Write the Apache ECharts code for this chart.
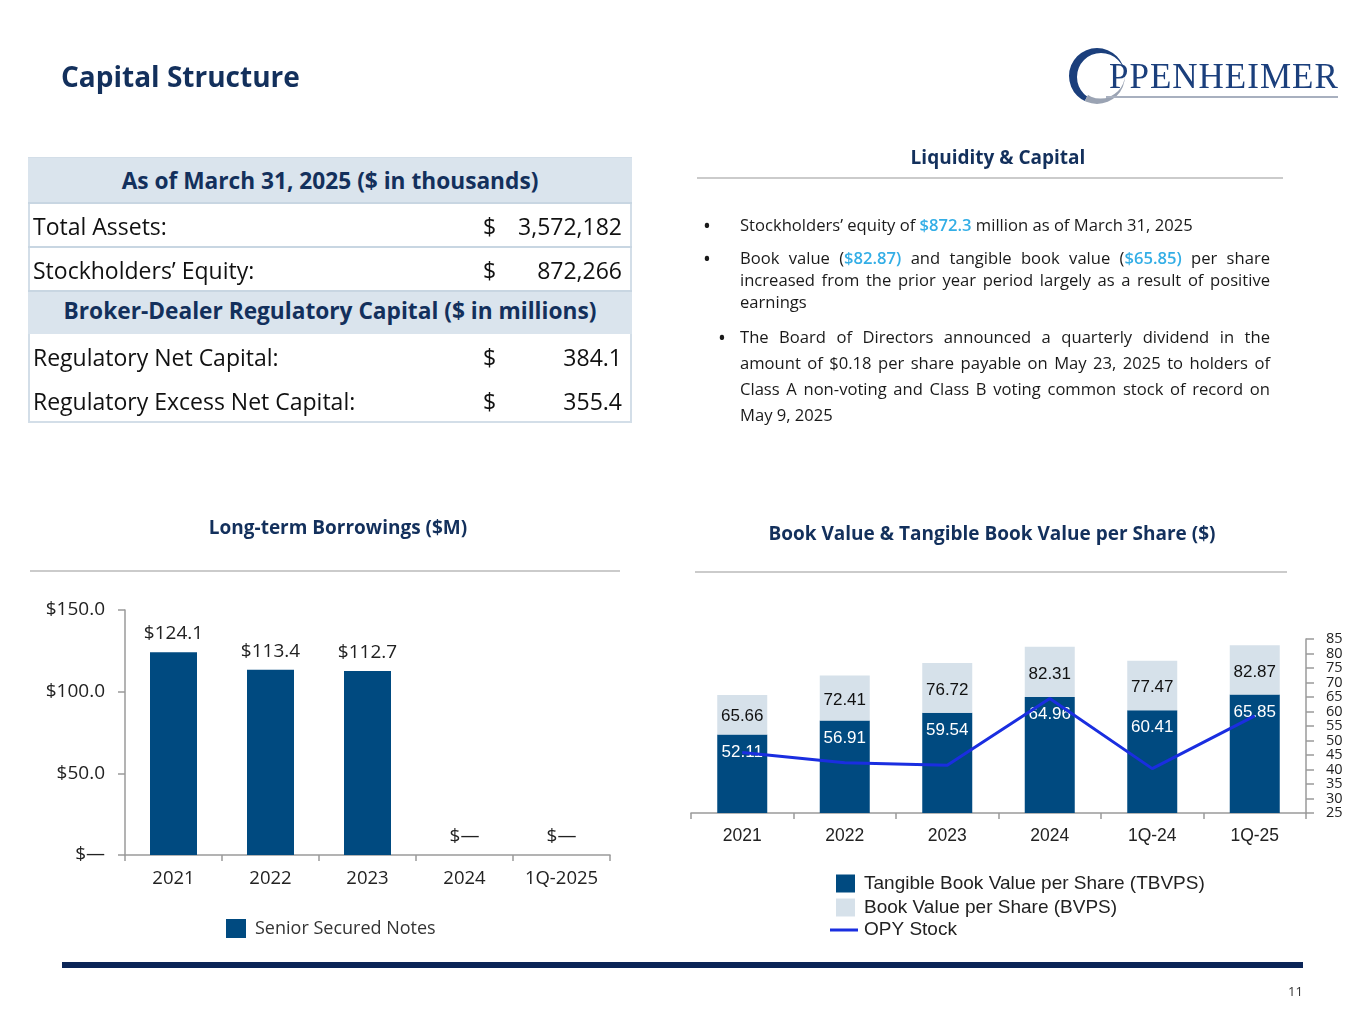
<!DOCTYPE html>
<html>
<head>
<meta charset="utf-8">
<script src="https://cdn.jsdelivr.net/npm/echarts@6/dist/echarts.min.js"></script>
<style>
  body{margin:0;background:#fff;width:1365px;height:1024px;overflow:hidden;position:relative;font-family:'Open Sans',sans-serif;color:#1a1a1a;}
  #chart{position:absolute;left:0;top:0;width:1365px;height:1024px;}
  .abs{position:absolute;white-space:nowrap;}
  .navy{color:#13305c;font-weight:700;}
  .rule{position:absolute;height:2px;background:#cbcbcb;}
  .tbl{position:absolute;left:28px;width:604px;box-sizing:border-box;}
  .hdr{background:#dae4ed;text-align:center;font-weight:700;color:#13305c;font-size:22.7px;}
  .row{font-size:23px;color:#111;}
  .row .lab{position:absolute;left:5px;}
  .row .dol{position:absolute;left:455px;}
  .row .val{position:absolute;right:10px;}
  .ln{position:absolute;left:740px;width:530px;font-size:16.6px;color:#1a1a1a;white-space:nowrap;}
  .j{text-align:justify;text-align-last:justify;}
  .hl{color:#33aee6;font-weight:600;}
  .bul{position:absolute;font-size:21px;}
</style>
</head>
<body>
<div id="chart"></div>

<!-- Page title -->
<div class="abs navy" style="left:61px;top:57px;font-size:28px;line-height:38px;">Capital Structure</div>

<!-- Logo -->
<svg class="abs" style="left:0;top:0" width="1365" height="130">
  <defs>
    <clipPath id="cTop"><polygon points="1060,40 1135,40 1135,64 1098,76 1080,110 1060,110"/></clipPath>
    <clipPath id="cBot"><polygon points="1098,76 1135,64 1135,110 1080,110"/></clipPath>
  </defs>
  <path clip-path="url(#cTop)" fill="#1b3f7c" fill-rule="evenodd"
        d="M1069,76 a28,28 0 1,0 56,0 a28,28 0 1,0 -56,0 Z M1077,77 a24,24 0 1,0 48,0 a24,24 0 1,0 -48,0 Z"/>
  <path clip-path="url(#cBot)" fill="#9aa3b3" fill-rule="evenodd"
        d="M1069,76 a28,28 0 1,0 56,0 a28,28 0 1,0 -56,0 Z M1076,74 a24.5,24.5 0 1,0 49,0 a24.5,24.5 0 1,0 -49,0 Z"/>
  <text x="1109" y="88" font-family="Liberation Serif, serif" font-size="35" fill="#1b3f7c" letter-spacing="1">PPENHEIMER</text>
  <line x1="1106" y1="97" x2="1338" y2="97" stroke="#a8b0bf" stroke-width="2"/>
</svg>

<!-- Table -->
<div class="tbl" style="top:157px;height:266px;border:2px solid #d3dee8;"></div>
<div class="tbl hdr" style="top:158px;height:44px;line-height:46px;">As of March 31, 2025 ($ in thousands)</div>
<div class="tbl row" style="top:202px;height:44px;line-height:44px;border-top:2px solid #c8d6e2;"><span class="lab">Total Assets:</span><span class="dol">$</span><span class="val">3,572,182</span></div>
<div class="tbl row" style="top:246px;height:44px;line-height:44px;border-top:2px solid #c8d6e2;"><span class="lab">Stockholders’ Equity:</span><span class="dol">$</span><span class="val">872,266</span></div>
<div class="tbl hdr" style="top:290px;height:44px;line-height:38px;border-top:2px solid #c8d6e2;">Broker-Dealer Regulatory Capital ($ in millions)</div>
<div class="tbl row" style="top:334px;height:45px;line-height:46px;"><span class="lab">Regulatory Net Capital:</span><span class="dol">$</span><span class="val">384.1</span></div>
<div class="tbl row" style="top:379px;height:43px;line-height:44px;"><span class="lab">Regulatory Excess Net Capital:</span><span class="dol">$</span><span class="val">355.4</span></div>

<!-- Liquidity & Capital -->
<div class="abs navy" style="left:698px;width:600px;text-align:center;top:144px;font-size:19px;line-height:26px;">Liquidity &amp; Capital</div>
<div class="rule" style="left:697px;width:586px;top:177px;"></div>

<div class="bul" style="left:703px;top:213px;line-height:24px;">•</div>
<div class="ln" style="top:213px;line-height:24px;">Stockholders’ equity of <span class="hl">$872.3</span> million as of March 31, 2025</div>

<div class="bul" style="left:703px;top:246px;line-height:24px;">•</div>
<div class="ln j" style="top:246px;line-height:24px;">Book value (<span class="hl">$82.87)</span> and tangible book value (<span class="hl">$65.85)</span> per share</div>
<div class="ln j" style="top:268px;line-height:24px;">increased from the prior year period largely as a result of positive</div>
<div class="ln" style="top:290px;line-height:24px;">earnings</div>

<div class="bul" style="left:718px;top:325px;line-height:24px;">•</div>
<div class="ln j" style="top:325px;line-height:24px;">The Board of Directors announced a quarterly dividend in the</div>
<div class="ln j" style="top:351px;line-height:24px;">amount of $0.18 per share payable on May 23, 2025 to holders of</div>
<div class="ln j" style="top:377px;line-height:24px;">Class A non-voting and Class B voting common stock of record on</div>
<div class="ln" style="top:403px;line-height:24px;">May 9, 2025</div>

<!-- Chart titles -->
<div class="abs navy" style="left:138px;width:400px;text-align:center;top:514px;font-size:19px;line-height:26px;">Long-term Borrowings ($M)</div>
<div class="rule" style="left:30px;width:590px;top:570px;"></div>
<div class="abs navy" style="left:692px;width:600px;text-align:center;top:520px;font-size:19px;line-height:26px;">Book Value &amp; Tangible Book Value per Share ($)</div>
<div class="rule" style="left:695px;width:592px;top:571px;"></div>

<!-- Footer -->
<div class="abs" style="left:62px;width:1241px;top:962px;height:6px;background:#0b2557;"></div>
<div class="abs" style="left:1288px;top:983px;font-size:13px;line-height:16px;color:#333;">11</div>

<script>
// ---- Long-term Borrowings ($M)
const ltbCategories = ['2021', '2022', '2023', '2024', '1Q-2025'];
const ltbValues = [124.1, 113.4, 112.7, 0, 0];
const ltbTickLabels = ['$—', '$50.0', '$100.0', '$150.0'];
const ltbSeriesName = 'Senior Secured Notes';

// ---- Book Value & Tangible Book Value per Share ($)
const bvCategories = ['2021', '2022', '2023', '2024', '1Q-24', '1Q-25'];
const bvpsValues = [65.66, 72.41, 76.72, 82.31, 77.47, 82.87];
const tbvpsValues = [52.11, 56.91, 59.54, 64.96, 60.41, 65.85];
const opyStockValues = [45.9, 42.3, 41.5, 64.5, 40.3, 58.5];
const bvTickLabels = ['25','30','35','40','45','50','55','60','65','70','75','80','85'];

const NAVY = '#004a80';
const LIGHT = '#d6e1ea';
const LINE = '#1a2ee0';
const AXIS = '#9a9a9a';

const chart = echarts.init(document.getElementById('chart'), null, {renderer: 'canvas'});

const bvpsGap = bvpsValues.map((v, i) => +(v - tbvpsValues[i]).toFixed(2));

chart.setOption({
  animation: false,
  grid: [
    {left: 125, top: 610, width: 485, height: 245, containLabel: false},
    {left: 691, top: 639, width: 615, height: 174, containLabel: false}
  ],
  xAxis: [
    {
      gridIndex: 0, type: 'category', data: ltbCategories,
      axisLine: {lineStyle: {color: AXIS, width: 1.5}},
      axisTick: {show: true, length: 6, lineStyle: {color: AXIS, width: 1.5}},
      axisLabel: {fontFamily: 'Open Sans', fontSize: 18.5, color: '#222', margin: 14}
    },
    {
      gridIndex: 1, type: 'category', data: bvCategories,
      axisLine: {lineStyle: {color: AXIS, width: 1.5}},
      axisTick: {show: true, length: 6, lineStyle: {color: AXIS, width: 1.5}},
      axisLabel: {fontFamily: 'Liberation Sans', fontSize: 17.5, color: '#222', margin: 14}
    }
  ],
  yAxis: [
    {
      gridIndex: 0, type: 'value', min: 0, max: 150, interval: 50,
      axisLine: {show: true, lineStyle: {color: AXIS, width: 1.5}},
      axisTick: {show: true, length: 7, lineStyle: {color: AXIS, width: 1.5}},
      splitLine: {show: false},
      axisLabel: {
        fontFamily: 'Open Sans', fontSize: 19, color: '#222', margin: 20,
        formatter: v => ltbTickLabels[Math.round(v / 50)]
      }
    },
    {
      // value scale (25..85) used by the bars and the OPY line
      gridIndex: 1, type: 'value', position: 'right', min: 25, max: 85, interval: 5,
      show: false
    },
    {
      // visible right-hand scale, one tick label per 5 units (25..85)
      gridIndex: 1, type: 'category', position: 'right', data: bvTickLabels, boundaryGap: false,
      axisLine: {show: true, lineStyle: {color: AXIS, width: 1.5}},
      axisTick: {show: true, length: 8, interval: 0, lineStyle: {color: AXIS, width: 1.5}},
      splitLine: {show: false},
      axisLabel: {
        interval: 0, fontFamily: 'Open Sans', fontSize: 14.5, color: '#222', margin: 20
      }
    }
  ],
  legend: [
    {
      data: [ltbSeriesName], left: 226, top: 919, padding: 0,
      itemWidth: 20, itemHeight: 19, icon: 'rect', itemGap: 10,
      textStyle: {fontFamily: 'Open Sans', fontSize: 18, color: '#333', padding: [0, 0, 0, 4]}
    },
    {
      data: ['Tangible Book Value per Share (TBVPS)', 'Book Value per Share (BVPS)'],
      orient: 'vertical', left: 836, top: 874, padding: 0,
      itemWidth: 19, itemHeight: 18, itemGap: 5, icon: 'rect',
      textStyle: {fontFamily: 'Liberation Sans', fontSize: 19, color: '#222', padding: [0, 0, 0, 4]}
    },
    {
      data: ['OPY Stock'], orient: 'vertical', left: 830, top: 920.5, padding: 0,
      itemWidth: 28, itemHeight: 3, itemGap: 5,
      icon: 'path://M0,0 L28,0 L28,3 L0,3 Z',
      textStyle: {fontFamily: 'Liberation Sans', fontSize: 19, color: '#222', padding: [0, 0, 0, 1]}
    }
  ],
  series: [
    {
      name: ltbSeriesName, type: 'bar', xAxisIndex: 0, yAxisIndex: 0,
      data: ltbValues, barWidth: 47,
      itemStyle: {color: NAVY},
      label: {
        show: true, position: 'top', distance: 9,
        fontFamily: 'Open Sans', fontSize: 19, color: '#222',
        formatter: p => p.value === 0 ? '$—' : '$' + p.value.toFixed(1)
      }
    },
    {
      name: 'Tangible Book Value per Share (TBVPS)', type: 'bar', xAxisIndex: 1, yAxisIndex: 1,
      stack: 'bv', data: tbvpsValues, barWidth: 50,
      itemStyle: {color: NAVY},
      label: {
        show: true, position: 'insideTop', distance: 9,
        fontFamily: 'Liberation Sans', fontSize: 17, color: '#ffffff',
        formatter: p => tbvpsValues[p.dataIndex].toFixed(2)
      }
    },
    {
      name: 'Book Value per Share (BVPS)', type: 'bar', xAxisIndex: 1, yAxisIndex: 1,
      stack: 'bv', data: bvpsGap, barWidth: 50,
      itemStyle: {color: LIGHT},
      label: {
        show: true, position: 'inside', offset: [0, 2],
        fontFamily: 'Liberation Sans', fontSize: 17, color: '#111',
        formatter: p => bvpsValues[p.dataIndex].toFixed(2)
      }
    },
    {
      name: 'OPY Stock', type: 'line', xAxisIndex: 1, yAxisIndex: 1,
      data: opyStockValues, symbol: 'none', showSymbol: false, z: 5,
      lineStyle: {color: LINE, width: 3},
      itemStyle: {color: LINE}
    }
  ]
});
</script>
</body>
</html>
